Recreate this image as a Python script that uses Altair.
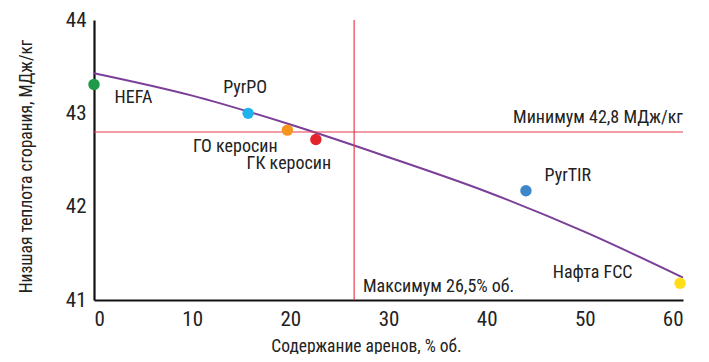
import altair as alt
import pandas as pd

# points
names = ["HEFA", "PyrPO", "ГО керосин", "ГК керосин", "PyrTIR", "Нафта FCC"]
pt_x = [0.0, 15.7, 19.7, 22.6, 44.0, 59.7]
pt_y = [43.31, 43.0, 42.82, 42.72, 42.17, 41.18]
pt_color = ["#1f9a48", "#1fb2ec", "#f7941d", "#e4232b", "#3b87c9", "#ffde17"]

# trend curve
curve_x = [0, 10, 20, 30, 40, 50, 60]
curve_y = [43.43, 43.19, 42.88, 42.53, 42.16, 41.73, 41.24]

# limits
min_heat = 42.8
max_arom = 26.5

# labels
lab_text = ["HEFA", "PyrPO", "ГО керосин", "ГК керосин", "PyrTIR", "Нафта FCC",
            "Максимум 26,5% об."]
lab_x = [2.1, 15.4, 18.7, 19.85, 45.9, 50.8, 27.4]
lab_y = [43.16, 43.27, 42.64, 42.46, 42.33, 41.29, 41.14]
lab_align = ["left", "center", "right", "center", "left", "center", "left"]

FONT = "Liberation Sans Narrow, Roboto Condensed, Roboto, sans-serif"

xs = alt.Scale(domain=[0, 60], nice=False)
ys = alt.Scale(domain=[41, 44], nice=False)

pts = pd.DataFrame({"name": names, "x": pt_x, "y": pt_y, "c": pt_color})
crv = pd.DataFrame({"x": curve_x, "y": curve_y})
labs = pd.DataFrame({"t": lab_text, "x": lab_x, "y": lab_y, "a": lab_align})

base_x = alt.X("x:Q", scale=xs,
               axis=alt.Axis(values=[0, 10, 20, 30, 40, 50, 60], format="d",
                             title="Содержание аренов, % об.", titleX=272))
base_y = alt.Y("y:Q", scale=ys,
               axis=alt.Axis(values=[41, 42, 43, 44], format="d",
                             title="Низшая теплота сгорания, МДж/кг", titleY=146))

curve = alt.Chart(crv).mark_line(color="#7b3f98", strokeWidth=2, interpolate="monotone").encode(
    x=base_x, y=base_y)

hline = alt.Chart(pd.DataFrame({"x": [0], "x2": [60], "y": [min_heat]})).mark_rule(
    color="#e63c4c", strokeWidth=1.2).encode(x="x:Q", x2="x2:Q", y="y:Q")
vline = alt.Chart(pd.DataFrame({"x": [max_arom], "y": [41], "y2": [44]})).mark_rule(
    color="#e63c4c", strokeWidth=1.2).encode(x="x:Q", y="y:Q", y2="y2:Q")

points = alt.Chart(pts).mark_circle(size=130, opacity=1).encode(
    x="x:Q", y="y:Q", color=alt.Color("c:N", scale=None))

text_layers = []
for a in ["left", "center", "right"]:
    text_layers.append(
        alt.Chart(labs).transform_filter(alt.datum.a == a).mark_text(
            align=a, baseline="middle", font=FONT, fontSize=18, color="#222222"
        ).encode(x="x:Q", y="y:Q", text="t:N")
    )

min_label = alt.Chart(pd.DataFrame({"x": [60], "y": [min_heat], "t": ["Минимум 42,8 МДж/кг"]})).mark_text(
    align="right", baseline="bottom", dy=-5, font=FONT, fontSize=18, color="#222222"
).encode(x="x:Q", y="y:Q", text="t:N")

chart = alt.layer(curve, hline, vline, points, *text_layers, min_label).properties(
    width=589, height=280,
    padding={"left": 86, "top": 12, "right": 18, "bottom": 54},
    autosize=alt.AutoSizeParams(type="none"),
).configure_view(stroke=None).configure_axis(
    grid=False, ticks=False, domainColor="#111111", domainWidth=2.2,
    labelFont=FONT, labelFontSize=21, labelColor="#222222", labelPadding=8,
    titleFont=FONT, titleFontSize=17.5, titleColor="#222222", titleFontWeight="normal",
).configure_axisX(titlePadding=8).configure_axisY(titlePadding=30)

chart.save("out.html", embed_options={"renderer": "svg", "actions": False})
